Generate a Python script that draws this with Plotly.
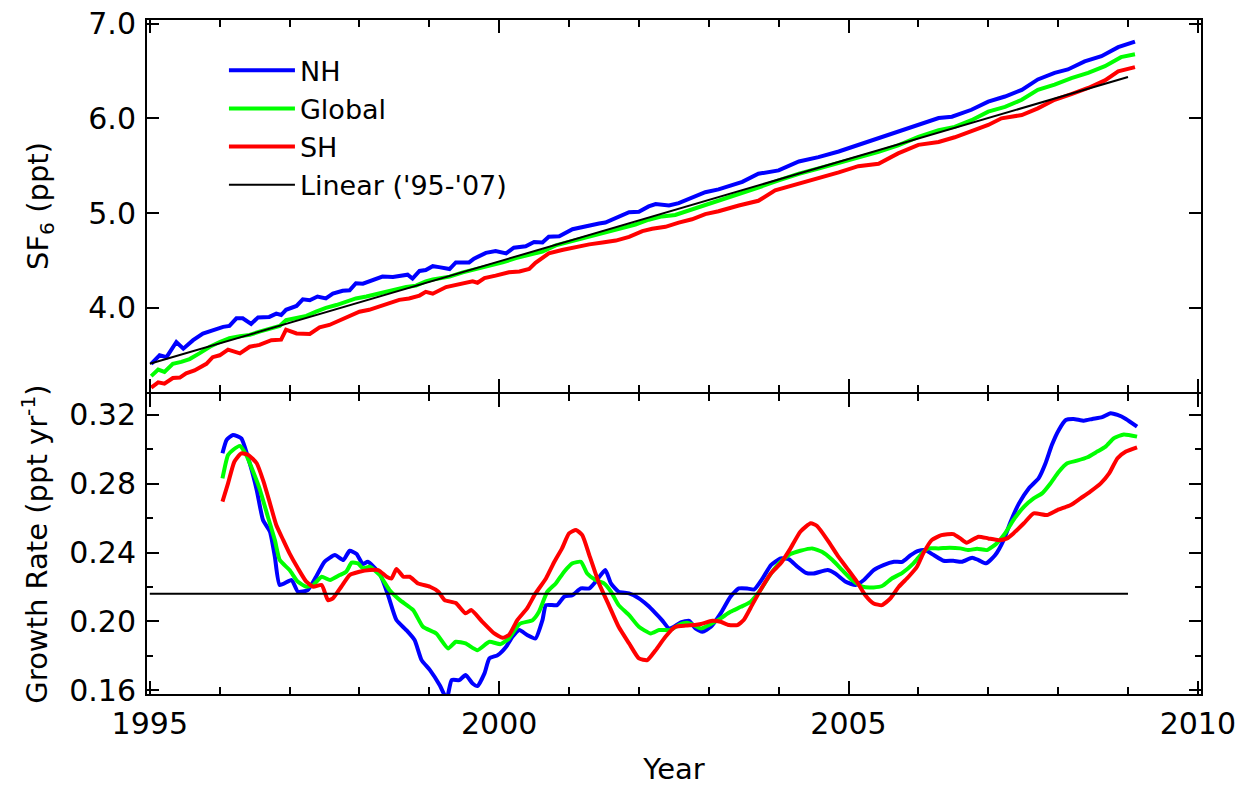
import plotly.graph_objects as go

# ---------------- top panel: SF6 mole fraction (ppt) ----------------
nh_years = [1995.02, 1995.14, 1995.24, 1995.38, 1995.48, 1995.62, 1995.76, 1995.86, 1996.05, 1996.14,
            1996.24, 1996.33, 1996.45, 1996.55, 1996.71, 1996.81, 1996.88, 1996.95, 1997.10, 1997.19,
            1997.29, 1997.40, 1997.52, 1997.62, 1997.76, 1997.86, 1997.95, 1998.05, 1998.19, 1998.33,
            1998.48, 1998.57, 1998.69, 1998.76, 1998.86, 1998.95, 1999.05, 1999.14, 1999.29, 1999.38,
            1999.57, 1999.64, 1999.81, 1999.95, 2000.10, 2000.21, 2000.38, 2000.50, 2000.62, 2000.71,
            2000.86, 2001.05, 2001.24, 2001.43, 2001.52, 2001.71, 2001.86, 2002.00, 2002.14, 2002.24,
            2002.43, 2002.57, 2002.76, 2002.95, 2003.14, 2003.48, 2003.71, 2004.00, 2004.29, 2004.57,
            2004.86, 2005.14, 2005.43, 2005.71, 2006.00, 2006.29, 2006.48, 2006.76, 2007.00, 2007.24,
            2007.48, 2007.71, 2007.95, 2008.14, 2008.38, 2008.62, 2008.86, 2009.10]
nh_sf6 = [3.41, 3.50, 3.48, 3.64, 3.57, 3.66, 3.73, 3.755, 3.80, 3.81,
          3.89, 3.89, 3.83, 3.90, 3.905, 3.94, 3.925, 3.98, 4.02, 4.09,
          4.08, 4.12, 4.10, 4.15, 4.18, 4.185, 4.26, 4.255, 4.29, 4.33,
          4.325, 4.335, 4.35, 4.31, 4.39, 4.40, 4.44, 4.43, 4.41, 4.48,
          4.48, 4.52, 4.58, 4.60, 4.575, 4.635, 4.65, 4.695, 4.69, 4.75,
          4.755, 4.83, 4.865, 4.89, 4.90, 4.965, 5.01, 5.015, 5.07, 5.095,
          5.08, 5.105, 5.165, 5.22, 5.25, 5.33, 5.415, 5.45, 5.545, 5.59,
          5.65, 5.72, 5.795, 5.865, 5.93, 6.003, 6.017, 6.09, 6.175, 6.23,
          6.30, 6.41, 6.48, 6.515, 6.60, 6.655, 6.75, 6.81]

gl_years = [1995.02, 1995.12, 1995.21, 1995.33, 1995.45, 1995.57, 1995.71, 1995.86, 1996.00, 1996.14,
            1996.29, 1996.43, 1996.57, 1996.71, 1996.86, 1996.95, 1997.10, 1997.24, 1997.38, 1997.52,
            1997.67, 1997.81, 1997.95, 1998.10, 1998.24, 1998.38, 1998.52, 1998.67, 1998.81, 1998.95,
            1999.05, 1999.29, 1999.48, 1999.67, 1999.86, 2000.05, 2000.24, 2000.43, 2000.62, 2000.81,
            2001.00, 2001.19, 2001.38, 2001.57, 2001.76, 2001.95, 2002.14, 2002.33, 2002.52, 2002.71,
            2002.90, 2003.14, 2003.43, 2003.71, 2004.00, 2004.29, 2004.57, 2004.86, 2005.14, 2005.43,
            2005.71, 2006.00, 2006.29, 2006.52, 2006.76, 2007.00, 2007.24, 2007.48, 2007.71, 2007.95,
            2008.19, 2008.43, 2008.67, 2008.90, 2009.10]
gl_sf6 = [3.28, 3.35, 3.325, 3.41, 3.43, 3.46, 3.52, 3.59, 3.64, 3.68,
          3.70, 3.715, 3.75, 3.78, 3.81, 3.87, 3.89, 3.915, 3.96, 4.00,
          4.03, 4.06, 4.10, 4.12, 4.145, 4.17, 4.195, 4.22, 4.235, 4.28,
          4.30, 4.33, 4.375, 4.41, 4.44, 4.48, 4.525, 4.56, 4.595, 4.66,
          4.695, 4.74, 4.775, 4.81, 4.845, 4.88, 4.93, 4.965, 4.98, 5.025,
          5.07, 5.125, 5.20, 5.27, 5.345, 5.415, 5.47, 5.53, 5.585, 5.645,
          5.715, 5.805, 5.875, 5.91, 5.98, 6.07, 6.12, 6.195, 6.30, 6.355,
          6.425, 6.48, 6.55, 6.645, 6.675]

sh_years = [1995.02, 1995.12, 1995.21, 1995.33, 1995.43, 1995.52, 1995.64, 1995.81, 1995.90, 1996.00,
            1996.12, 1996.29, 1996.43, 1996.57, 1996.74, 1996.88, 1996.95, 1997.10, 1997.29, 1997.43,
            1997.57, 1997.71, 1997.86, 1998.00, 1998.14, 1998.29, 1998.43, 1998.57, 1998.71, 1998.86,
            1998.95, 1999.05, 1999.24, 1999.43, 1999.62, 1999.69, 1999.79, 1999.95, 2000.14, 2000.29,
            2000.43, 2000.52, 2000.71, 2000.90, 2001.10, 2001.29, 2001.48, 2001.67, 2001.86, 2002.05,
            2002.19, 2002.38, 2002.57, 2002.76, 2002.95, 2003.14, 2003.43, 2003.71, 2003.95, 2004.24,
            2004.52, 2004.86, 2005.14, 2005.43, 2005.71, 2006.00, 2006.29, 2006.52, 2006.76, 2007.00,
            2007.19, 2007.48, 2007.71, 2007.95, 2008.19, 2008.43, 2008.67, 2008.86, 2009.10]
sh_sf6 = [3.16, 3.215, 3.20, 3.26, 3.265, 3.31, 3.34, 3.41, 3.48, 3.50,
          3.56, 3.52, 3.59, 3.61, 3.66, 3.665, 3.77, 3.73, 3.725, 3.795,
          3.82, 3.865, 3.91, 3.96, 3.98, 4.02, 4.05, 4.085, 4.10, 4.13,
          4.17, 4.15, 4.22, 4.245, 4.28, 4.265, 4.315, 4.34, 4.375, 4.385,
          4.41, 4.475, 4.575, 4.61, 4.645, 4.67, 4.69, 4.71, 4.75, 4.81,
          4.835, 4.855, 4.90, 4.935, 4.99, 5.02, 5.08, 5.13, 5.24, 5.30,
          5.355, 5.43, 5.495, 5.52, 5.63, 5.72, 5.75, 5.80, 5.865, 5.93,
          6.00, 6.035, 6.105, 6.195, 6.255, 6.32, 6.40, 6.495, 6.54]

lin_years = [1995.0, 2009.0]
lin_sf6 = [3.410, 6.435]

# ---------------- bottom panel: growth rate (ppt/yr) ----------------
nh_gr_years = [1996.04, 1996.10, 1996.19, 1996.31, 1996.43, 1996.53, 1996.62, 1996.72, 1996.79, 1996.86,
               1997.03, 1997.12, 1997.26, 1997.38, 1997.50, 1997.65, 1997.77, 1997.86, 1997.96, 1998.05,
               1998.12, 1998.29, 1998.41, 1998.53, 1998.67, 1998.79, 1998.89, 1999.01, 1999.15, 1999.25,
               1999.32, 1999.43, 1999.52, 1999.62, 1999.69, 1999.79, 1999.86, 1999.98, 2000.10, 2000.19,
               2000.29, 2000.40, 2000.52, 2000.62, 2000.67, 2000.83, 2000.93, 2001.05, 2001.17, 2001.29,
               2001.38, 2001.52, 2001.60, 2001.71, 2001.86, 2002.00, 2002.12, 2002.24, 2002.33, 2002.43,
               2002.50, 2002.60, 2002.72, 2002.81, 2002.91, 2003.03, 2003.17, 2003.31, 2003.43, 2003.55,
               2003.65, 2003.77, 2003.89, 2004.03, 2004.15, 2004.27, 2004.39, 2004.50, 2004.70, 2004.81,
               2004.96, 2005.10, 2005.22, 2005.36, 2005.50, 2005.65, 2005.77, 2005.89, 2006.00, 2006.10,
               2006.22, 2006.36, 2006.50, 2006.62, 2006.77, 2006.86, 2006.97, 2007.10, 2007.22, 2007.32,
               2007.44, 2007.58, 2007.72, 2007.82, 2007.91, 2008.01, 2008.11, 2008.22, 2008.37, 2008.49,
               2008.63, 2008.75, 2008.85, 2008.97, 2009.13]
nh_gr = [0.2977, 0.3055, 0.3084, 0.3064, 0.2919, 0.2764, 0.2589, 0.2521, 0.2375, 0.2211,
         0.2240, 0.2172, 0.2181, 0.2259, 0.2346, 0.2385, 0.2356, 0.2410, 0.2391, 0.2333,
         0.2346, 0.2278, 0.2152, 0.2007, 0.1949, 0.1891, 0.1774, 0.1716, 0.1628, 0.1550,
         0.1658, 0.1658, 0.1687, 0.1638, 0.1623, 0.1697, 0.1784, 0.1803, 0.1852, 0.1910,
         0.1949, 0.1920, 0.1900, 0.2007, 0.2094, 0.2094, 0.2143, 0.2152, 0.2191, 0.2191,
         0.2230, 0.2298, 0.2220, 0.2172, 0.2162, 0.2133, 0.2094, 0.2046, 0.2007, 0.1958,
         0.1968, 0.1994, 0.2003, 0.1958, 0.1939, 0.1968, 0.2046, 0.2143, 0.2191, 0.2191,
         0.2185, 0.2249, 0.2327, 0.2366, 0.2360, 0.2317, 0.2282, 0.2278, 0.2298, 0.2278,
         0.2230, 0.2211, 0.2240, 0.2298, 0.2327, 0.2346, 0.2346, 0.2385, 0.2410, 0.2414,
         0.2385, 0.2352, 0.2352, 0.2346, 0.2370, 0.2356, 0.2337, 0.2385, 0.2472, 0.2579,
         0.2686, 0.2773, 0.2831, 0.2919, 0.3025, 0.3113, 0.3171, 0.3177, 0.3167, 0.3177,
         0.3187, 0.3210, 0.3200, 0.3177, 0.3132]

gl_gr_years = [1996.04, 1996.12, 1996.19, 1996.29, 1996.38, 1996.48, 1996.57, 1996.69, 1996.79, 1996.86,
               1997.00, 1997.12, 1997.24, 1997.34, 1997.46, 1997.58, 1997.72, 1997.81, 1997.89, 1997.98,
               1998.05, 1998.15, 1998.29, 1998.43, 1998.58, 1998.77, 1998.91, 1999.10, 1999.27, 1999.38,
               1999.52, 1999.69, 1999.86, 2000.02, 2000.14, 2000.29, 2000.48, 2000.57, 2000.69, 2000.81,
               2000.93, 2001.05, 2001.17, 2001.26, 2001.38, 2001.50, 2001.60, 2001.71, 2001.86, 2002.00,
               2002.17, 2002.29, 2002.45, 2002.57, 2002.69, 2002.80, 2002.89, 2003.03, 2003.17, 2003.31,
               2003.46, 2003.60, 2003.74, 2003.89, 2004.03, 2004.17, 2004.31, 2004.48, 2004.62, 2004.77,
               2004.91, 2005.05, 2005.20, 2005.36, 2005.48, 2005.62, 2005.77, 2005.93, 2006.05, 2006.14,
               2006.29, 2006.45, 2006.60, 2006.72, 2006.84, 2006.98, 2007.12, 2007.24, 2007.36, 2007.51,
               2007.65, 2007.77, 2007.89, 2008.01, 2008.13, 2008.27, 2008.42, 2008.56, 2008.68, 2008.80,
               2008.94, 2009.13]
gl_gr = [0.2831, 0.2967, 0.2996, 0.3020, 0.2967, 0.2870, 0.2773, 0.2608, 0.2472, 0.2356,
         0.2298, 0.2230, 0.2201, 0.2211, 0.2259, 0.2240, 0.2269, 0.2288, 0.2341, 0.2337,
         0.2308, 0.2317, 0.2269, 0.2182, 0.2123, 0.2065, 0.1968, 0.1929, 0.1842, 0.1881,
         0.1871, 0.1832, 0.1881, 0.1867, 0.1900, 0.1984, 0.2007, 0.2055, 0.2172, 0.2220,
         0.2288, 0.2337, 0.2346, 0.2278, 0.2240, 0.2220, 0.2172, 0.2094, 0.2036, 0.1968,
         0.1929, 0.1949, 0.1949, 0.1978, 0.1991, 0.1975, 0.1958, 0.1984, 0.2017, 0.2055,
         0.2084, 0.2114, 0.2182, 0.2278, 0.2346, 0.2391, 0.2410, 0.2424, 0.2404, 0.2356,
         0.2298, 0.2240, 0.2201, 0.2197, 0.2205, 0.2249, 0.2282, 0.2337, 0.2395, 0.2424,
         0.2424, 0.2428, 0.2424, 0.2414, 0.2422, 0.2414, 0.2453, 0.2511, 0.2589, 0.2666,
         0.2715, 0.2744, 0.2802, 0.2870, 0.2919, 0.2934, 0.2954, 0.2987, 0.3016, 0.3065,
         0.3087, 0.3074]

sh_gr_years = [1996.04, 1996.12, 1996.21, 1996.31, 1996.41, 1996.53, 1996.62, 1996.72, 1996.81, 1996.91,
               1997.00, 1997.12, 1997.24, 1997.34, 1997.46, 1997.55, 1997.62, 1997.74, 1997.86, 1998.00,
               1998.15, 1998.27, 1998.39, 1998.46, 1998.53, 1998.63, 1998.72, 1998.84, 1999.01, 1999.13,
               1999.22, 1999.38, 1999.52, 1999.60, 1999.76, 1999.93, 2000.05, 2000.14, 2000.26, 2000.40,
               2000.52, 2000.67, 2000.79, 2000.90, 2001.00, 2001.10, 2001.19, 2001.29, 2001.43, 2001.57,
               2001.71, 2001.86, 2002.00, 2002.12, 2002.24, 2002.38, 2002.52, 2002.67, 2002.80, 2002.89,
               2003.05, 2003.17, 2003.29, 2003.41, 2003.50, 2003.62, 2003.74, 2003.89, 2004.03, 2004.17,
               2004.31, 2004.46, 2004.55, 2004.70, 2004.84, 2004.98, 2005.12, 2005.24, 2005.36, 2005.48,
               2005.60, 2005.72, 2005.86, 2005.98, 2006.07, 2006.19, 2006.33, 2006.50, 2006.60, 2006.69,
               2006.86, 2007.00, 2007.15, 2007.27, 2007.36, 2007.51, 2007.65, 2007.84, 2007.99, 2008.18,
               2008.32, 2008.46, 2008.61, 2008.73, 2008.85, 2008.97, 2009.13]
sh_gr = [0.2696, 0.2802, 0.2928, 0.2977, 0.2967, 0.2919, 0.2822, 0.2686, 0.2560, 0.2472,
         0.2395, 0.2308, 0.2230, 0.2201, 0.2211, 0.2123, 0.2133, 0.2201, 0.2269, 0.2288,
         0.2298, 0.2298, 0.2259, 0.2249, 0.2304, 0.2259, 0.2259, 0.2220, 0.2201, 0.2172,
         0.2123, 0.2106, 0.2046, 0.2065, 0.1997, 0.1929, 0.1904, 0.1920, 0.2007, 0.2075,
         0.2162, 0.2249, 0.2346, 0.2424, 0.2511, 0.2531, 0.2501, 0.2385, 0.2220, 0.2094,
         0.1968, 0.1871, 0.1784, 0.1774, 0.1832, 0.1910, 0.1968, 0.1975, 0.1978, 0.1984,
         0.2003, 0.1997, 0.1978, 0.1978, 0.2007, 0.2094, 0.2182, 0.2278, 0.2337, 0.2424,
         0.2521, 0.2570, 0.2554, 0.2472, 0.2385, 0.2308, 0.2230, 0.2152, 0.2104, 0.2094,
         0.2133, 0.2201, 0.2259, 0.2317, 0.2395, 0.2472, 0.2501, 0.2507, 0.2482, 0.2457,
         0.2492, 0.2482, 0.2472, 0.2482, 0.2511, 0.2570, 0.2628, 0.2618, 0.2647, 0.2676,
         0.2715, 0.2754, 0.2802, 0.2860, 0.2948, 0.2987, 0.3012]

mean_years = [1995.0, 2009.0]
mean_gr = [0.216, 0.216]

BLUE, GREEN, RED, BLACK = "#0000FF", "#00FF00", "#FF0000", "#000000"
FONT = "DejaVu Sans"

fig = go.Figure()
for yrs, vals, name, col in [(nh_years, nh_sf6, "NH", BLUE),
                             (gl_years, gl_sf6, "Global", GREEN),
                             (sh_years, sh_sf6, "SH", RED)]:
    fig.add_trace(go.Scatter(x=yrs, y=vals, mode="lines", name=name,
                             line=dict(color=col, width=4), xaxis="x", yaxis="y"))
fig.add_trace(go.Scatter(x=lin_years, y=lin_sf6, mode="lines", name="Linear ('95-'07)",
                         line=dict(color=BLACK, width=2), xaxis="x", yaxis="y"))

for yrs, vals, col in [(nh_gr_years, nh_gr, BLUE),
                       (gl_gr_years, gl_gr, GREEN),
                       (sh_gr_years, sh_gr, RED)]:
    fig.add_trace(go.Scatter(x=yrs, y=vals, mode="lines", showlegend=False,
                             line=dict(color=col, width=4, shape="spline", smoothing=0.5),
                             xaxis="x2", yaxis="y2"))
fig.add_trace(go.Scatter(x=mean_years, y=mean_gr, mode="lines", showlegend=False,
                         line=dict(color=BLACK, width=1.8), xaxis="x2", yaxis="y2"))

XR = [1994.96, 2010.045]
common_x = dict(range=XR, tick0=1995, dtick=5, ticks="inside", ticklen=13, tickwidth=2,
                tickcolor=BLACK, showline=True, linewidth=2, linecolor=BLACK, mirror="allticks",
                showgrid=False, zeroline=False, automargin=False,
                minor=dict(dtick=1, tick0=1995, ticks="inside", ticklen=7, tickwidth=2,
                           tickcolor=BLACK, showgrid=False))
fig.update_layout(
    width=1239, height=786,
    margin=dict(l=147, r=38, t=20, b=92),
    paper_bgcolor="white", plot_bgcolor="white",
    font=dict(family=FONT, size=30, color=BLACK),
    showlegend=True,
    legend=dict(x=0.073, y=0.961, xanchor="left", yanchor="top",
                bgcolor="rgba(0,0,0,0)", font=dict(size=27), itemwidth=66,
                tracegroupgap=0),
    xaxis=dict(domain=[0, 1], anchor="y", showticklabels=False, **common_x),
    xaxis2=dict(domain=[0, 1], anchor="y2", showticklabels=True, ticklabelstandoff=2,
                title=dict(text="Year", standoff=31, font=dict(size=29)), **common_x),
    yaxis=dict(domain=[0.4481, 1], anchor="x", range=[3.113, 7.037], tick0=0, dtick=1,
               tickformat=".1f", ticks="inside", ticklen=12, tickwidth=2, tickcolor=BLACK,
               showline=True, linewidth=2, linecolor=BLACK, mirror="allticks",
               showgrid=False, zeroline=False, ticklabelstandoff=3, automargin=False,
               title=dict(text="SF<sub>6</sub> (ppt)", standoff=31, font=dict(size=29))),
    yaxis2=dict(domain=[0, 0.4451], anchor="x2", range=[0.1577, 0.3322], tick0=0.16, dtick=0.04,
                tickformat=".2f", ticks="inside", ticklen=12, tickwidth=2, tickcolor=BLACK,
                showline=True, linewidth=2, linecolor=BLACK, mirror="allticks",
                showgrid=False, zeroline=False, ticklabelstandoff=3, automargin=False,
                minor=dict(dtick=0.02, tick0=0.16, ticks="inside", ticklen=6, tickwidth=2,
                           tickcolor=BLACK, showgrid=False),
                title=dict(text="Growth Rate (ppt yr<sup>-1</sup>)", standoff=13,
                           font=dict(size=29))),
)

fig.write_html("out.html", config={"displayModeBar": False, "staticPlot": True},
               post_script="document.body.style.margin='0';document.body.style.overflow='hidden';")
